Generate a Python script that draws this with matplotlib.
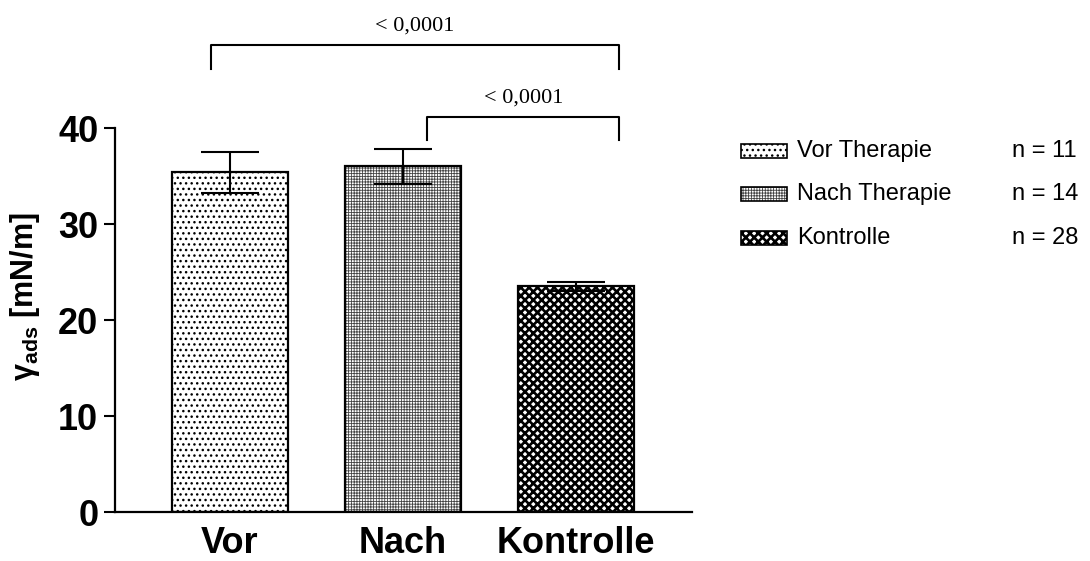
import numpy as np
import matplotlib
matplotlib.use("Agg")
import matplotlib.pyplot as plt
from matplotlib.patches import Rectangle

# data
groups = ["Vor", "Nach", "Kontrolle"]
legend_labels = ["Vor Therapie", "Nach Therapie", "Kontrolle"]
n_values = [11, 14, 28]
means = [35.4, 36.0, 23.5]
sems = [2.15, 1.8, 0.5]
p_texts = ["< 0,0001", "< 0,0001"]

hatches = ["...", "++++++", "xxxx"]
hatch_colors = ["black", "#444444", "black"]
hatch_lws = [1.0, 0.6, 1.9]

plt.rcParams['font.family'] = ['Liberation Sans', 'DejaVu Sans']
plt.rcParams['mathtext.fontset'] = 'custom'
plt.rcParams['mathtext.rm'] = 'Liberation Sans'
plt.rcParams['mathtext.bf'] = 'Liberation Sans:bold'

W, H = 1090, 561
fig = plt.figure(figsize=(W / 100, H / 100), dpi=100)
# axes box in pixels: x 115..692, y (from top) 32..512
ax = fig.add_axes([115 / W, (H - 512) / H, (692 - 115) / W, 480 / H])

x = np.arange(len(groups))
width = 0.67
for i in range(len(groups)):
    with plt.rc_context({'hatch.linewidth': hatch_lws[i]}):
        ax.bar(x[i], means[i], width, color="white", edgecolor=hatch_colors[i],
               hatch=hatches[i], linewidth=0, zorder=2)
ax.bar(x, means, width, fill=False, edgecolor="black", linewidth=1.6, zorder=3)
ax.errorbar(x, means, yerr=sems, fmt="none", ecolor="black", elinewidth=1.5,
            capsize=21, capthick=1.5, zorder=4)

ax.set_xlim(-0.665, 2.67)
ax.set_ylim(0, 50)
ax.spines['top'].set_visible(False)
ax.spines['right'].set_visible(False)
ax.spines['left'].set_bounds(0, 40)
ax.spines['left'].set_linewidth(1.6)
ax.spines['bottom'].set_linewidth(1.6)
ax.set_yticks([0, 10, 20, 30, 40])
ax.tick_params(axis='y', length=8, width=1.5, pad=4, labelsize=26)
ax.tick_params(axis='x', length=0, pad=10, labelsize=26)
ax.set_xticks(x)
ax.set_xticklabels(groups, fontweight='bold')
for lab in ax.get_yticklabels():
    lab.set_fontweight('bold')

ax.set_ylabel(r'γ$_{\mathbf{ads}}$ [mN/m]', fontsize=22, fontweight='bold')
ax.yaxis.set_label_coords(-0.127, 0.448)

# significance brackets
def bracket(x0, x1, ytop, ybot, text, ytext):
    ax.plot([x0, x0, x1, x1], [ybot, ytop, ytop, ybot], color="black",
            linewidth=1.5, clip_on=False, zorder=5)
    ax.text((x0 + x1) / 2, ytext, text, ha="center", va="bottom",
            fontsize=16, family="Liberation Serif", clip_on=False)

bracket(-0.11, 2.25, 48.6, 46.1, p_texts[0], 49.6)
bracket(1.14, 2.25, 41.1, 38.75, p_texts[1], 42.1)

# legend drawn on the right
row_y = [151, 194, 238]
for i in range(len(legend_labels)):
    yc = row_y[i]
    with plt.rc_context({'hatch.linewidth': hatch_lws[i]}):
        r = Rectangle((741 / W, (H - yc - 7) / H), 46 / W, 14 / H,
                      transform=fig.transFigure, facecolor="white",
                      edgecolor=hatch_colors[i], hatch=hatches[i], linewidth=0)
    fig.add_artist(r)
    fig.add_artist(Rectangle((741 / W, (H - yc - 7) / H), 46 / W, 14 / H,
                             transform=fig.transFigure, fill=False,
                             edgecolor="black", linewidth=1.2))
    fig.text(797 / W, (H - yc) / H, legend_labels[i], fontsize=17, va="center")
    fig.text(1012 / W, (H - yc) / H, "n = %d" % n_values[i], fontsize=17,
             va="center")

fig.savefig("out.png", dpi=100)
